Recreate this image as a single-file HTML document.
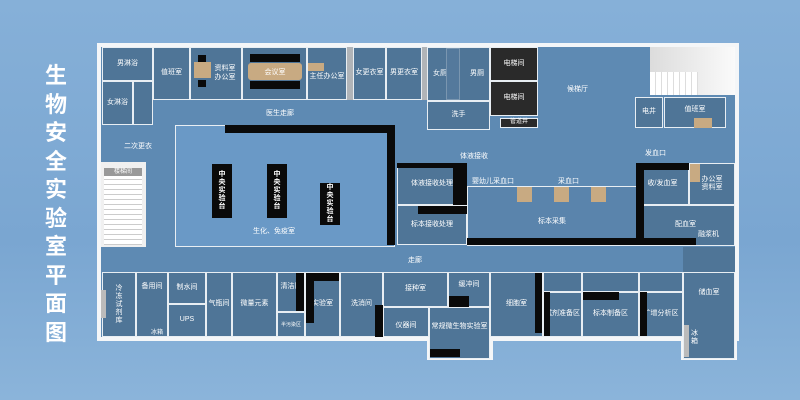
<!DOCTYPE html><html><head><meta charset="utf-8"><style>
body{margin:0;width:800px;height:400px;overflow:hidden;background:linear-gradient(180deg,#86b0d8,#7aa6d1 60%,#8bb4da);font-family:"Liberation Sans","Noto Sans CJK SC",sans-serif;position:relative}
div{position:absolute;box-sizing:border-box}
.r{background:#4f7597;border:1px solid #e8eef3;color:#fff;font-size:7px;display:flex;align-items:center;justify-content:center;text-align:center;line-height:1.2}
.c{background:#5e8ab3}
.k{background:#0a0a0a}
.t{color:#fff;font-size:7px;white-space:nowrap}
.tb{display:flex;align-items:center;justify-content:center;color:#fff;font-size:7px;line-height:8px;text-align:center;font-weight:bold}
</style></head><body>
<div style="left:40px;top:62px;width:32px;color:#fff;font-size:22px;font-weight:bold;line-height:28.5px;text-align:center">生物安全实验室平面图</div>
<div style="left:97px;top:43px;width:642px;height:298px;background:#f4f6f8"></div>
<div style="left:427px;top:335px;width:66px;height:25px;background:#f4f6f8"></div>
<div style="left:681px;top:335px;width:56px;height:25px;background:#f4f6f8"></div>
<div class="c" style="left:101px;top:47px;width:634px;height:290px"></div>
<div class="r" style="left:102px;top:47px;width:51px;height:34px">男淋浴</div>
<div class="r" style="left:102px;top:81px;width:31px;height:44px">女淋浴</div>
<div class="r" style="left:133px;top:81px;width:20px;height:44px"></div>
<div class="r" style="left:153px;top:47px;width:37px;height:53px">值班室</div>
<div class="r" style="left:190px;top:47px;width:52px;height:53px;padding-left:18px">资料室<br>办公室</div>
<div style="left:194px;top:62px;width:17px;height:16px;background:#c8aa82"></div>
<div class="k" style="left:198px;top:55px;width:8px;height:7px"></div><div class="k" style="left:198px;top:80px;width:8px;height:7px"></div>
<div class="r" style="left:242px;top:47px;width:65px;height:53px"></div>
<div class="k" style="left:250px;top:54px;width:50px;height:8px"></div><div class="k" style="left:250px;top:81px;width:50px;height:8px"></div>
<div style="left:248px;top:63px;width:54px;height:17px;background:#c8aa82;border-radius:3px;color:#fff;font-size:7px;display:flex;align-items:center;justify-content:center">会议室</div>
<div class="r" style="left:307px;top:47px;width:40px;height:53px;padding-top:8px">主任办公室</div>
<div style="left:308px;top:63px;width:16px;height:8px;background:#c8aa82"></div>
<div style="left:347px;top:47px;width:6px;height:53px;background:#b0b4b8"></div>
<div class="r" style="left:353px;top:47px;width:33px;height:53px">女更衣室</div>
<div class="r" style="left:386px;top:47px;width:36px;height:53px">男更衣室</div>
<div style="left:422px;top:47px;width:5px;height:53px;background:#b0b4b8"></div>
<div class="r" style="left:427px;top:47px;width:63px;height:54px;justify-content:space-between;padding:0 5px"><span>女厕</span><span>男厕</span></div>
<div style="left:446px;top:48px;width:14px;height:52px;border:1px solid #7a96b0;background:#54799c"></div>
<div class="r" style="left:427px;top:101px;width:63px;height:29px">洗手</div>
<div class="r" style="left:490px;top:47px;width:48px;height:34px;background:#2a2a2a">电梯间</div>
<div class="r" style="left:490px;top:81px;width:48px;height:35px;background:#2a2a2a">电梯间</div>
<div class="r" style="left:500px;top:118px;width:38px;height:10px;font-size:6px;background:#2a2a2a">管道井</div>
<div class="t" style="left:567px;top:84px">候梯厅</div>
<div style="left:650px;top:47px;width:85px;height:48px;background:linear-gradient(90deg,#dcdcdc,#fafafa);"></div>
<div style="left:650px;top:72px;width:48px;height:23px;background:repeating-linear-gradient(90deg,#fff 0 5px,#ddd 5px 6px)"></div>
<div class="r" style="left:635px;top:97px;width:28px;height:31px">电井</div>
<div class="r" style="left:664px;top:97px;width:62px;height:31px;padding-bottom:5px">值班室</div>
<div style="left:694px;top:118px;width:18px;height:10px;background:#c8aa82"></div>
<div class="t" style="left:266px;top:108px">医生走廊</div>
<div class="t" style="left:460px;top:151px">体液接收</div>
<div class="t" style="left:645px;top:148px">发血口</div>
<div class="t" style="left:124px;top:141px">二次更衣</div>
<div style="left:101px;top:162px;width:45px;height:85px;background:#f0f0f0"></div>
<div style="left:104px;top:175px;width:38px;height:70px;background:repeating-linear-gradient(180deg,#fff 0 4px,#ccc 4px 5px)"></div>
<div style="left:104px;top:168px;width:38px;height:8px;background:#999;color:#fff;font-size:6px;text-align:center;line-height:8px">楼梯间</div>
<div style="left:175px;top:125px;width:220px;height:122px;background:#6a99c6;border:1px solid #e8eef3"></div>
<div class="k" style="left:225px;top:125px;width:168px;height:8px"></div>
<div class="k" style="left:387px;top:125px;width:8px;height:120px"></div>
<div class="k tb" style="left:212px;top:164px;width:20px;height:54px">中<br>央<br>实<br>验<br>台</div>
<div class="k tb" style="left:267px;top:164px;width:20px;height:54px">中<br>央<br>实<br>验<br>台</div>
<div class="k tb" style="left:320px;top:183px;width:20px;height:42px">中<br>央<br>实<br>验<br>台</div>
<div class="t" style="left:253px;top:226px">生化、免疫室</div>
<div class="r" style="left:397px;top:163px;width:70px;height:42px">体液接收处理</div>
<div class="k" style="left:397px;top:163px;width:56px;height:5px"></div>
<div class="k" style="left:453px;top:163px;width:14px;height:42px"></div>
<div class="r" style="left:397px;top:205px;width:70px;height:40px">标本接收处理</div>
<div class="k" style="left:418px;top:206px;width:49px;height:8px"></div>
<div class="t" style="left:472px;top:176px">婴幼儿采血口</div>
<div class="t" style="left:558px;top:176px">采血口</div>
<div class="r" style="left:467px;top:186px;width:170px;height:60px;background:#5a84ac;padding-top:12px">标本采集</div>
<div class="k" style="left:467px;top:238px;width:170px;height:7px"></div>
<div style="left:517px;top:187px;width:15px;height:15px;background:#c8aa82"></div>
<div style="left:554px;top:187px;width:15px;height:15px;background:#c8aa82"></div>
<div style="left:591px;top:187px;width:15px;height:15px;background:#c8aa82"></div>
<div class="r" style="left:636px;top:163px;width:53px;height:42px">收/发血室</div>
<div class="k" style="left:636px;top:163px;width:53px;height:7px"></div>
<div class="k" style="left:636px;top:163px;width:8px;height:42px"></div>
<div class="r" style="left:689px;top:163px;width:46px;height:42px">办公室<br>资料室</div>
<div style="left:690px;top:164px;width:10px;height:18px;background:#c8aa82"></div>
<div class="r" style="left:636px;top:205px;width:99px;height:41px">配血室</div>
<div class="k" style="left:636px;top:205px;width:8px;height:40px"></div>
<div class="k" style="left:636px;top:238px;width:60px;height:7px"></div>
<div class="t" style="left:698px;top:229px">融浆机</div>
<div class="t" style="left:408px;top:255px">走廊</div>
<div style="left:683px;top:247px;width:52px;height:25px;background:#4f7597"></div>
<div class="r" style="left:102px;top:272px;width:34px;height:65px;line-height:8px">冷<br>冻<br>试<br>剂<br>库</div>
<div style="left:101px;top:290px;width:5px;height:28px;background:#bbb"></div>
<div class="r" style="left:136px;top:272px;width:32px;height:65px;align-items:flex-start;padding-top:10px">备用间</div>
<div class="t" style="left:151px;top:327px;font-size:6px">冰箱</div>
<div class="r" style="left:168px;top:272px;width:38px;height:32px">制水间</div>
<div class="r" style="left:168px;top:304px;width:38px;height:33px">UPS</div>
<div class="r" style="left:206px;top:272px;width:26px;height:65px">气瓶间</div>
<div class="r" style="left:232px;top:272px;width:45px;height:65px">微量元素</div>
<div class="r" style="left:277px;top:272px;width:28px;height:40px;align-items:flex-start;padding-top:10px">清洁区</div>
<div class="k" style="left:296px;top:273px;width:8px;height:38px"></div>
<div class="r" style="left:277px;top:312px;width:28px;height:25px;font-size:5px">半污染区</div>
<div class="r" style="left:305px;top:272px;width:35px;height:65px">实验室</div>
<div class="k" style="left:306px;top:273px;width:33px;height:8px"></div><div class="k" style="left:306px;top:273px;width:8px;height:50px"></div>
<div class="r" style="left:340px;top:272px;width:43px;height:65px">洗消间</div>
<div class="k" style="left:375px;top:305px;width:8px;height:32px"></div>
<div class="r" style="left:383px;top:272px;width:65px;height:35px">接种室</div>
<div class="k" style="left:384px;top:313px;width:40px;height:8px"></div>
<div class="r" style="left:383px;top:307px;width:46px;height:30px;padding-top:8px">仪器间</div>
<div class="r" style="left:448px;top:272px;width:42px;height:35px;padding-bottom:8px">缓冲间</div>
<div class="k" style="left:449px;top:296px;width:20px;height:11px"></div>
<div class="r" style="left:429px;top:307px;width:61px;height:52px;padding-bottom:12px">常规微生物实验室</div>
<div class="k" style="left:430px;top:349px;width:30px;height:8px"></div>
<div class="r" style="left:490px;top:272px;width:53px;height:65px">细胞室</div>
<div class="k" style="left:535px;top:273px;width:7px;height:60px"></div>
<div class="r" style="left:543px;top:272px;width:39px;height:20px"></div>
<div class="r" style="left:543px;top:292px;width:39px;height:45px">试剂准备区</div>
<div class="k" style="left:544px;top:292px;width:6px;height:44px"></div>
<div class="r" style="left:582px;top:272px;width:57px;height:20px"></div>
<div class="r" style="left:582px;top:292px;width:57px;height:45px">标本制备区</div>
<div class="k" style="left:583px;top:292px;width:36px;height:8px"></div>
<div class="r" style="left:639px;top:272px;width:44px;height:20px"></div>
<div class="r" style="left:639px;top:292px;width:44px;height:45px">扩增分析区</div>
<div class="k" style="left:640px;top:292px;width:7px;height:44px"></div>
<div class="r" style="left:683px;top:272px;width:52px;height:87px;align-items:flex-start;padding-top:16px">储血室</div>
<div style="left:684px;top:325px;width:5px;height:32px;background:#bbb"></div>
<div class="t" style="left:691px;top:330px;line-height:8px">冰<br>箱</div>
</body></html>
